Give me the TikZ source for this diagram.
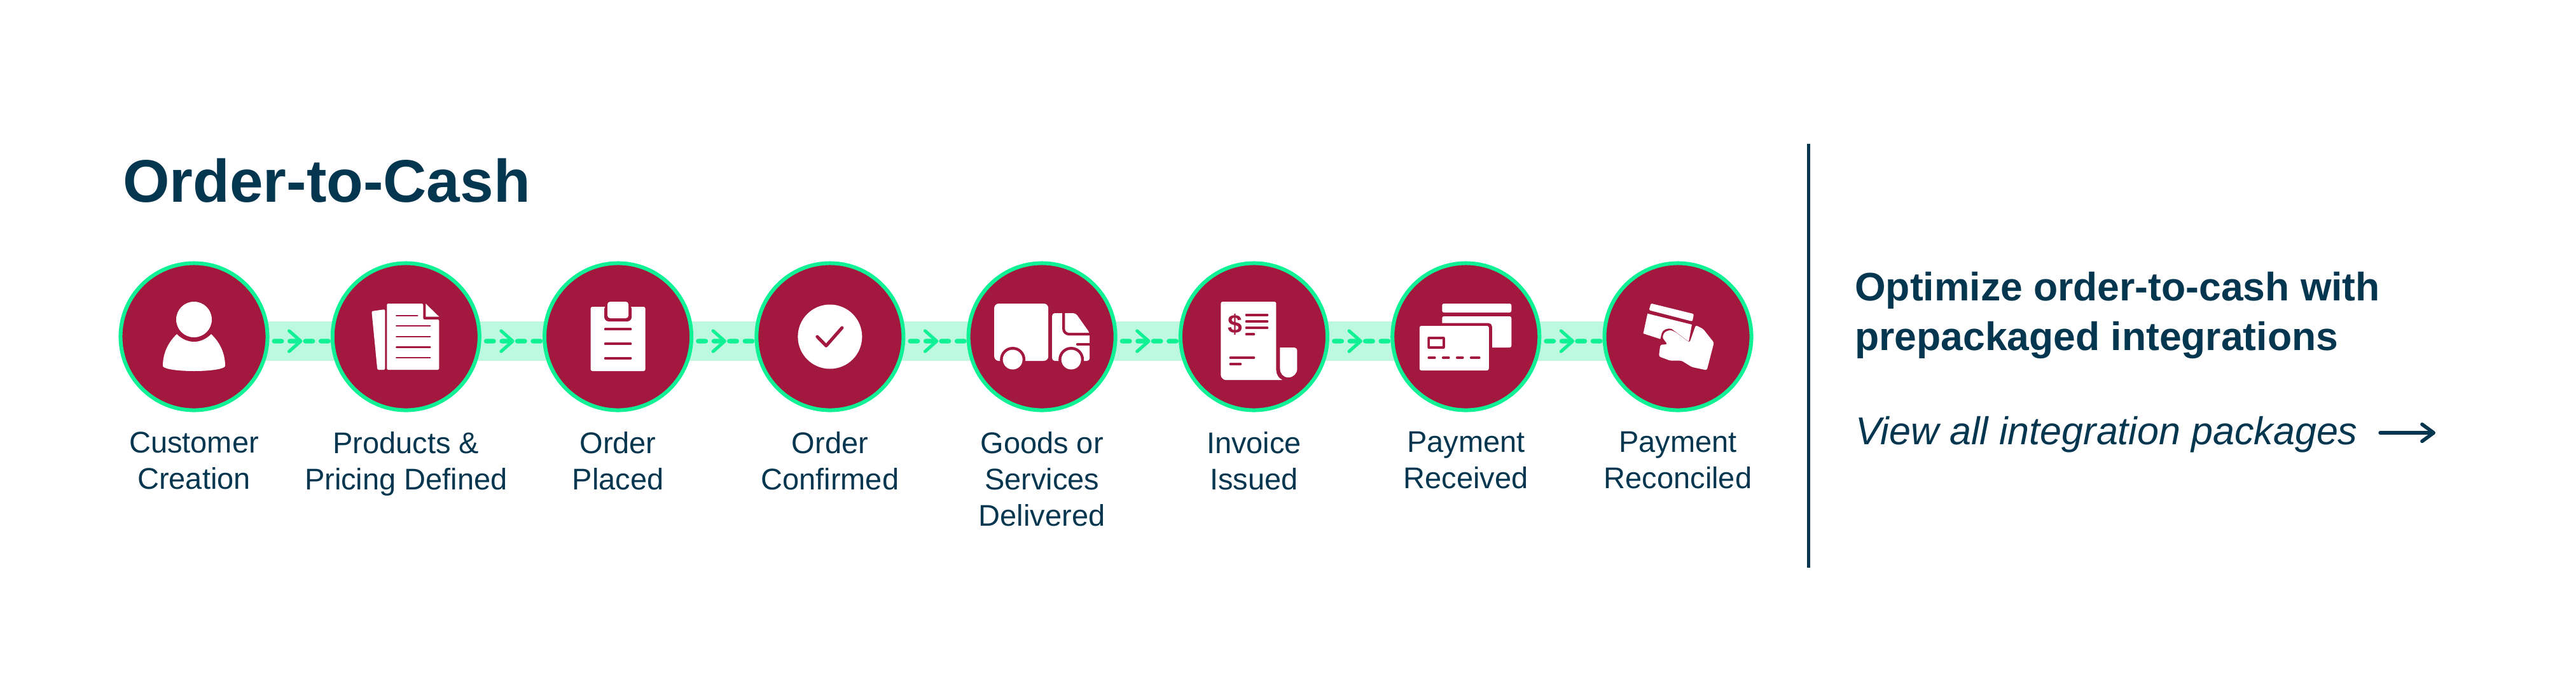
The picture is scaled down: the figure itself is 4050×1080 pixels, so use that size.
\documentclass[tikz,border=0pt]{standalone}
\usepackage{fontspec}
\setmainfont{Liberation Sans}
\usetikzlibrary{positioning, arrows.meta, backgrounds, decorations.markings}
\definecolor{navycolor}{RGB}{4, 54, 79}
\definecolor{circlecolor}{RGB}{163, 24, 63}
\definecolor{flowcolor}{RGB}{16, 240, 149}
\definecolor{bandcolor}{RGB}{189, 249, 224}

\begin{document}
\begin{tikzpicture}[
    x=0.025cm, y=0.025cm,
    node distance=0.765cm and 2.405cm,
    stepcircle/.style={circle, draw=flowcolor, fill=circlecolor, line width=4.27pt, minimum size=5.775cm, inner sep=0pt},
    steplabel/.style={align=center, inner sep=0pt, text=navycolor, font=\fontsize{33.4}{40.5}\selectfont, execute at begin node=\strut},
    flow/.style={draw=flowcolor, line width=5pt, line cap=round, dash pattern=on 8.5pt off 8.9pt, postaction={decorate},
        decoration={markings, mark=at position 0.5 with {\arrow{Straight Barb[round, length=13pt, width=23pt, line width=3.6pt]}}}},
    icon/.style={fill=white},
    iconcut/.style={fill=circlecolor},
    iconline/.style={draw=circlecolor, line width=2.6pt, line cap=round},
    linkarrow/.style={draw=navycolor, line width=4pt, line cap=round, -{Straight Barb[round, length=13pt, width=19pt]}},
]
\useasboundingbox (0,0) rectangle (4050,-1080);

% ============ title ============
\node[anchor=base west, inner sep=0pt, text=navycolor, font=\fontsize{67.2}{80}\selectfont\bfseries] (title) at (193,-317) {Order-to-Cash};

% ============ steps ============
\node[stepcircle] (cust) at (305,-529) {};
\node[stepcircle, right=of cust] (prod) {};
\node[stepcircle, right=of prod] (placed) {};
\node[stepcircle, right=of placed] (confirm) {};
\node[stepcircle, right=of confirm] (goods) {};
\node[stepcircle, right=of goods] (invoice) {};
\node[stepcircle, right=of invoice] (received) {};
\node[stepcircle, right=of received] (reconciled) {};

% ============ labels ============
\node[steplabel, below=of cust] (cust_lbl) {Customer\\Creation};
\node[steplabel, below=of prod] (prod_lbl) {Products \&\\Pricing Defined};
\node[steplabel, below=of placed] (placed_lbl) {Order\\Placed};
\node[steplabel, below=of confirm] (confirm_lbl) {Order\\Confirmed};
\node[steplabel, below=of goods] (goods_lbl) {Goods or\\Services\\Delivered};
\node[steplabel, below=of invoice] (invoice_lbl) {Invoice\\Issued};
\node[steplabel, below=of received] (received_lbl) {Payment\\Received};
\node[steplabel, below=of reconciled] (reconciled_lbl) {Payment\\Reconciled};

% ============ icons ============
% person
\begin{scope}[shift={(cust.center)}]
    \fill[icon] (0,27) circle (28);
    \fill[icon] (-27,4) .. controls (-42,-10) and (-49,-28) .. (-49,-46) .. controls (-49,-50) and (-30,-54) .. (0,-54)
        .. controls (30,-54) and (49,-50) .. (49,-46) .. controls (49,-28) and (42,-10) .. (27,4)
        .. controls (18,-5) and (8,-8) .. (0,-8) .. controls (-8,-8) and (-18,-5) .. (-27,4) -- cycle;
\end{scope}

% documents
\begin{scope}[shift={(prod.center)}]
    \fill[icon, rounded corners=1.5pt] (-54,40) -- (-33,43) -- (-33,-52) -- (-45,-52) -- cycle;
    \fill[icon, rounded corners=1.5pt] (-30,52) -- (27,52) -- (27,27) -- (52,27) -- (52,-52) -- (-30,-52) -- cycle;
    \fill[icon] (31,52) -- (52,31.5) -- (31,31.5) -- cycle;
    \draw[iconline, line width=2pt] (-15,33) -- (18,33);
    \draw[iconline, line width=2pt] (-15,17) -- (38,17);
    \draw[iconline, line width=2pt] (-15,0) -- (38,0);
    \draw[iconline, line width=2pt] (-15,-16.5) -- (38,-16.5);
    \draw[iconline, line width=2pt] (-15,-33) -- (38,-33);
\end{scope}

% clipboard
\begin{scope}[shift={(placed.center)}]
    \fill[icon, rounded corners=2pt] (-43,47) rectangle (43,-54);
    \fill[iconcut, rounded corners=5pt] (-21.5,50) rectangle (21.5,24);
    \fill[icon, rounded corners=3pt] (-16.5,55) rectangle (16.5,29);
    \draw[iconline] (-20,11.7) -- (20,11.7);
    \draw[iconline] (-20,-11.3) -- (20,-11.3);
    \draw[iconline] (-20,-34) -- (20,-34);
\end{scope}

% check mark
\begin{scope}[shift={(confirm.center)}]
    \fill[icon] (0,0) circle (50.5);
    \draw[iconline, line width=3.6pt, line join=round] (-20,0) -- (-6,-14.3) -- (19,14);
\end{scope}

% truck
\begin{scope}[shift={(goods.center)}]
    \fill[icon, rounded corners=5pt] (-75,52) rectangle (10,-38);
    \fill[icon, rounded corners=3pt] (16,37) -- (53,37) -- (75,6) -- (75,-38) -- (16,-38) -- cycle;
    \draw[draw=circlecolor, line width=3pt, rounded corners=6pt] (34,39) -- (34,4) -- (77,4);
    \draw[iconline, line width=3.4pt] (56,-12) -- (77,-12);
    \fill[iconcut] (-46,-36) circle (20);
    \fill[iconcut] (46,-36) circle (20);
    \fill[iconcut] (-78,-40) rectangle (80,-70);
    \fill[icon] (-46,-36) circle (15.5);
    \fill[icon] (46,-36) circle (15.5);
\end{scope}

% invoice
\begin{scope}[shift={(invoice.center)}]
    \fill[icon, rounded corners=2pt] (-52,55) -- (35,55) -- (35,-50) .. controls (35,-60) and (40,-66) .. (46,-68) -- (-42,-68) .. controls (-48,-68) and (-52,-64) .. (-52,-58) -- cycle;
    \fill[icon] (41,-17) -- (62,-17) .. controls (66,-17) and (68,-19) .. (68,-23) -- (68,-50) .. controls (68,-58) and (62,-64) .. (54,-64) .. controls (46,-64) and (41,-58) .. (41,-50) -- cycle;
    \node[text=circlecolor, inner sep=0pt, font=\fontsize{29}{30}\selectfont\bfseries] (dollar) at (-30,19) {\$};
    \draw[iconline] (-12,34) -- (21,34);
    \draw[iconline] (-12,24) -- (21,24);
    \draw[iconline] (-12,14) -- (21,14);
    \draw[iconline] (-12,3.7) -- (0,3.7);
    \draw[iconline] (-37,-33) -- (0,-33);
    \draw[iconline] (-37,-43) -- (-21,-43);
\end{scope}

% credit cards
\begin{scope}[shift={(received.center)}]
    \fill[icon, rounded corners=2pt] (-37.5,52) -- (71.5,52) -- (71.5,38) -- (-37.5,38) -- cycle;
    \fill[icon, rounded corners=2pt] (-37.5,32) -- (71.5,32) -- (71.5,-17) -- (-37.5,-17) -- cycle;
    \fill[iconcut, rounded corners=4pt] (-60,21.5) rectangle (41,-60);
    \fill[icon, rounded corners=2pt] (-73,17) rectangle (36,-53);
    \fill[iconcut, rounded corners=1.5pt] (-60.5,0) rectangle (-33,-19);
    \fill[icon] (-56.5,-4) rectangle (-36.5,-15);
    \draw[iconline] (-58.5,-33) -- (-49,-33);
    \draw[iconline] (-36,-33) -- (-27,-33);
    \draw[iconline] (-14,-33) -- (-5,-33);
    \draw[iconline] (8,-33) -- (21,-33);
\end{scope}

% hand holding card
\begin{scope}[shift={(reconciled.center)}]
    \fill[icon, rounded corners=1.5pt] (-42.4,52.3) -- (25,35.7) -- (22.8,24) -- (-45.5,41.7) -- cycle;
    \fill[icon] (-47.8,36.3) -- (21.9,19) -- (17,-7.7) -- (-9.8,12.3) .. controls (-16,14) and (-24,11) .. (-25.4,5.7) -- (-27.7,-3.7) -- (-54.5,5) -- cycle;
    \fill[icon, rounded corners=2pt] (28,18) -- (39.5,12.3) -- (56.7,-9.3) -- (45.5,-52.7) -- (21.9,-47.7) -- (5.8,-37.7) -- (-12,-37.7) -- (-30,-31) -- (-27.7,-12.7) -- (-16.5,-12) -- (-24.6,-1) -- (-21,7.3) -- (-12,10.7) -- (-4,7.3) -- (18.3,-9.3) -- cycle;
\end{scope}

% ============ right side ============
\node[anchor=north west, align=left, inner sep=0pt, text=navycolor, font=\fontsize{44.4}{55.5}\selectfont\bfseries, execute at begin node=\strut] (heading) at (2916,-427)
      {Optimize order-to-cash with\\prepackaged integrations};
\node[anchor=base west, inner sep=0pt, text=navycolor, font=\fontsize{43.4}{50}\selectfont\itshape] (view) at (2917,-698) {View all integration packages};

\coordinate (link_end) at (3829,-680);
\coordinate (rule_top) at (2843.5,-226);
\coordinate (rule_bottom) at (2843.5,-892);
\draw[navycolor, line width=3pt] (rule_top) -- (rule_bottom);
\draw[linkarrow, shorten <=25pt] (view.east |- link_end) -- (link_end);

% ============ band and connectors ============
\begin{pgfonlayer}{background}
    \coordinate (band_start) at (cust.center |- 0,-505);
    \coordinate (band_end) at (reconciled.center |- 0,-567);
    \fill[bandcolor] (band_start) rectangle (band_end);
    \draw[flow] ([shift={(7.5,-7)}]cust.east) -- ([yshift=-0.175cm]prod.west);
    \draw[flow] ([shift={(7.5,-7)}]prod.east) -- ([yshift=-0.175cm]placed.west);
    \draw[flow] ([shift={(7.5,-7)}]placed.east) -- ([yshift=-0.175cm]confirm.west);
    \draw[flow] ([shift={(7.5,-7)}]confirm.east) -- ([yshift=-0.175cm]goods.west);
    \draw[flow] ([shift={(7.5,-7)}]goods.east) -- ([yshift=-0.175cm]invoice.west);
    \draw[flow] ([shift={(7.5,-7)}]invoice.east) -- ([yshift=-0.175cm]received.west);
    \draw[flow] ([shift={(7.5,-7)}]received.east) -- ([yshift=-0.175cm]reconciled.west);
\end{pgfonlayer}

\end{tikzpicture}
\end{document}
